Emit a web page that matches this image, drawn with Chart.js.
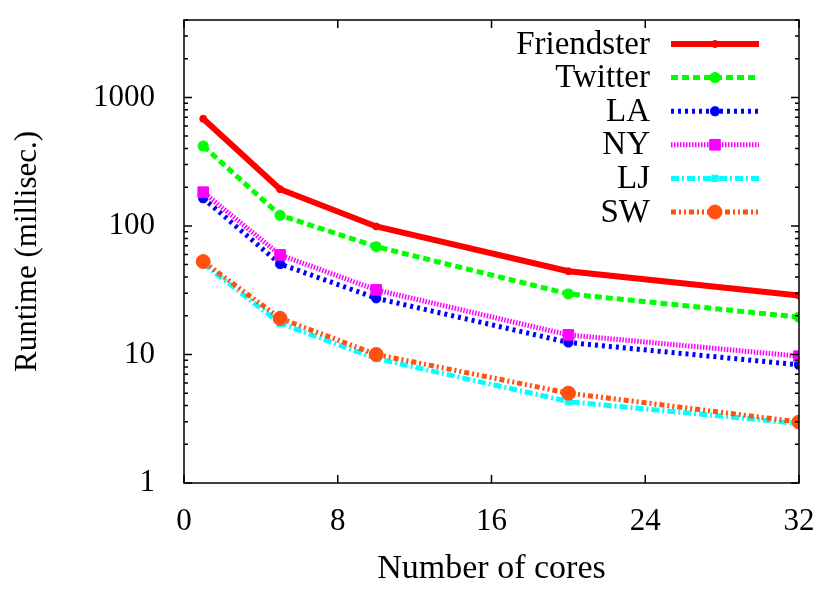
<!DOCTYPE html>
<html>
<head>
<meta charset="utf-8">
<script src="https://cdn.jsdelivr.net/npm/chart.js@4.4.0/dist/chart.umd.min.js"></script>
<style>
  html, body { margin: 0; padding: 0; background: #fff; }
  #wrap { width: 831px; height: 597px; }
</style>
</head>
<body>
<div id="wrap"><canvas id="mycanvas" width="831" height="597"></canvas></div>
<script>
// cores on x, runtime (ms) on a log y axis
var cores = [1, 5, 10, 20, 32];
var friendster = [682, 193, 99, 44.4, 28.7];
var twitter = [418, 121, 69, 29.6, 19.5];
var la = [164, 50.6, 27.4, 12.4, 8.3];
var ny = [183, 59.5, 31.8, 14.2, 9.7];
var lj = [51, 17.5, 9.3, 4.3, 2.9];
var sw = [52.8, 19.1, 10, 5.0, 2.98];

var seriesNames = ["Friendster", "Twitter", "LA", "NY", "LJ", "SW"];
var xTicks = [0, 8, 16, 24, 32];
var yTicks = [1, 10, 100, 1000];

var FONT = '"Liberation Serif", "Times New Roman", serif';

function pts(vals) {
  var out = [];
  for (var i in vals) out.push({ x: cores[i], y: vals[i] });
  return out;
}

function series(idx, vals, color, width, dash, style, radius, bw) {
  return {
    label: seriesNames[idx],
    data: pts(vals),
    borderColor: color,
    backgroundColor: color,
    borderWidth: width,
    borderDash: dash,
    borderCapStyle: 'butt',
    pointStyle: style,
    pointRadius: radius,
    pointBackgroundColor: color,
    pointBorderColor: color,
    pointBorderWidth: bw,
    tension: 0,
    fill: false,
    order: 6 - idx
  };
}

var chartdata = {
  datasets: [
    series(0, friendster, "#ff0000", 6, [], 'circle', 3.5, 1),
    series(1, twitter, "#00ff00", 5, [7, 4], 'star', 5.5, 3.5),
    series(2, la, "#0000ff", 5, [3, 4], 'star', 5, 3.5),
    series(3, ny, "#ff00ff", 5, [1.5, 1.5], 'rect', 7.5, 1),
    series(4, lj, "#00ffff", 5, [8, 3, 2, 3], 'rect', 4.5, 1),
    series(5, sw, "#ff5010", 5, [5, 3, 2, 3, 2, 3], 'circle', 7, 1)
  ]
};

// gnuplot style frame with inward ticks on all sides, plus the key
var gnuplotLook = {
  id: 'gnuplotLook',
  afterDatasetsDraw: function(chart) {
    var ctx = chart.ctx, a = chart.chartArea;
    var xs = chart.scales.x, ys = chart.scales.y;
    ctx.save();
    ctx.strokeStyle = '#000';
    ctx.lineWidth = 1.5;
    ctx.setLineDash([]);
    ctx.strokeRect(a.left, a.top, a.right - a.left, a.bottom - a.top);
    ctx.beginPath();
    xTicks.forEach(function(v) {
      var px = xs.getPixelForValue(v);
      ctx.moveTo(px, a.bottom); ctx.lineTo(px, a.bottom - 8);
      ctx.moveTo(px, a.top); ctx.lineTo(px, a.top + 8);
    });
    for (var d = 1; d <= 1000; d *= 10) {
      for (var m = 1; m <= 9; m++) {
        var v = d * m;
        if (v > ys.max) break;
        var py = ys.getPixelForValue(v);
        var len = m === 1 ? 8 : 4;
        ctx.moveTo(a.left, py); ctx.lineTo(a.left + len, py);
        ctx.moveTo(a.right, py); ctx.lineTo(a.right - len, py);
      }
    }
    ctx.stroke();
    ctx.restore();
  },
  afterDraw: function(chart) {
    var ctx = chart.ctx, a = chart.chartArea;
    ctx.save();
    ctx.font = '33px ' + FONT;
    ctx.textAlign = 'right';
    ctx.textBaseline = 'middle';
    chart.data.datasets.forEach(function(ds, i) {
      var y = a.top + 24 + i * 33.6;
      ctx.fillStyle = '#000';
      ctx.fillText(ds.label, a.right - 149, y + 1);
      ctx.strokeStyle = ds.borderColor;
      ctx.lineWidth = ds.borderWidth;
      ctx.lineCap = 'butt';
      ctx.setLineDash(ds.borderDash);
      ctx.beginPath();
      ctx.moveTo(a.right - 128, y);
      ctx.lineTo(a.right - 40, y);
      ctx.stroke();
      ctx.setLineDash([]);
      ctx.fillStyle = ds.pointBackgroundColor;
      ctx.strokeStyle = ds.pointBorderColor;
      ctx.lineWidth = ds.pointBorderWidth;
      Chart.helpers.drawPoint(ctx, {
        pointStyle: ds.pointStyle, radius: ds.pointRadius,
        borderWidth: ds.pointBorderWidth, rotation: 0
      }, a.right - 84, y);
    });
    ctx.restore();
  }
};

var ctx = document.getElementById("mycanvas");

var LineGraph = new Chart(ctx, {
  type: 'line',
  data: chartdata,
  plugins: [gnuplotLook],
  options: {
    responsive: false,
    animation: false,
    devicePixelRatio: 1,
    layout: { padding: { left: 0, top: 20, right: 32, bottom: 0 } },
    plugins: { legend: { display: false }, tooltip: { enabled: false } },
    scales: {
      x: {
        type: 'linear',
        min: 0,
        max: 32,
        afterBuildTicks: function(scale) {
          scale.ticks = xTicks.map(function(v) { return { value: v }; });
        },
        afterFit: function(scale) {
          scale.height = 114;
          scale.paddingLeft = 0; scale.paddingRight = 0;
        },
        grid: { display: false },
        border: { display: false },
        ticks: { color: '#000', padding: 12, maxRotation: 0, font: { family: FONT, size: 31 } },
        title: {
          display: true, text: 'Number of cores', color: '#000',
          padding: { top: 0, bottom: 8 }, font: { family: FONT, size: 34 }
        }
      },
      y: {
        type: 'logarithmic',
        min: 1,
        max: 4000,
        afterBuildTicks: function(scale) {
          scale.ticks = yTicks.map(function(v) { return { value: v }; });
        },
        afterFit: function(scale) {
          scale.width = 184;
          scale.paddingTop = 0; scale.paddingBottom = 0;
        },
        grid: { display: false },
        border: { display: false },
        ticks: {
          color: '#000', padding: 21, font: { family: FONT, size: 31 },
          callback: function(v) { return String(v); }
        },
        title: {
          display: true, text: 'Runtime (millisec.)', color: '#000',
          padding: { top: 9, bottom: 0 }, font: { family: FONT, size: 31 }
        }
      }
    }
  }
});
</script>
</body>
</html>
